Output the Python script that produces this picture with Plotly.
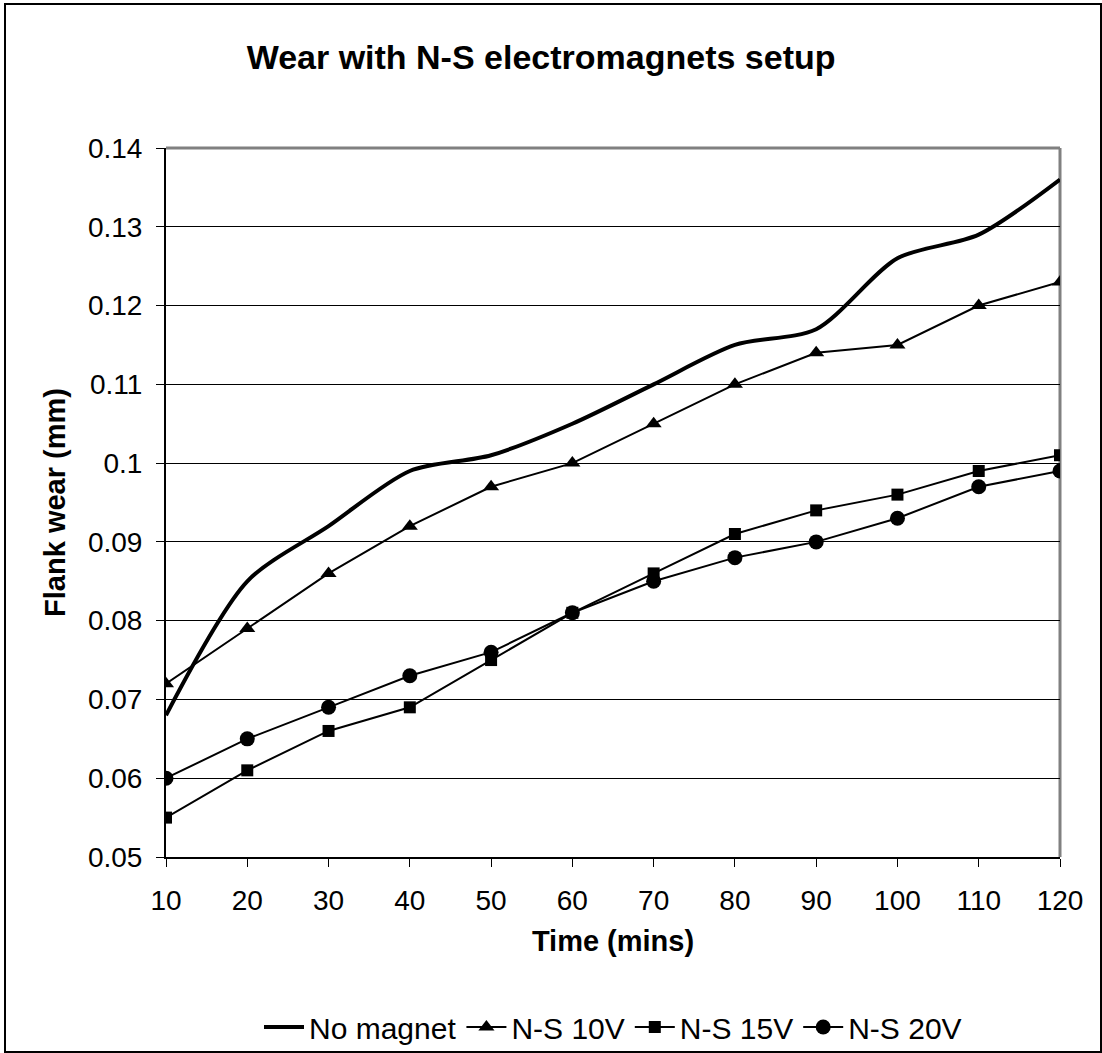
import plotly.graph_objects as go

time_mins = [10, 20, 30, 40, 50, 60, 70, 80, 90, 100, 110, 120]
no_magnet = [0.068, 0.085, 0.092, 0.099, 0.101, 0.105, 0.110, 0.115, 0.117, 0.126, 0.129, 0.136]
ns_10v = [0.072, 0.079, 0.086, 0.092, 0.097, 0.100, 0.105, 0.110, 0.114, 0.115, 0.120, 0.123]
ns_15v = [0.055, 0.061, 0.066, 0.069, 0.075, 0.081, 0.086, 0.091, 0.094, 0.096, 0.099, 0.101]
ns_20v = [0.060, 0.065, 0.069, 0.073, 0.076, 0.081, 0.085, 0.088, 0.090, 0.093, 0.097, 0.099]
y_ticks = [0.05, 0.06, 0.07, 0.08, 0.09, 0.10, 0.11, 0.12, 0.13, 0.14]
y_tick_labels = ["0.05", "0.06", "0.07", "0.08", "0.09", "0.1", "0.11", "0.12", "0.13", "0.14"]

FONT = "Liberation Sans, Arial, sans-serif"
TICK = 28
AXT = 29

fig = go.Figure()
fig.add_trace(go.Scatter(x=time_mins, y=no_magnet, name="No magnet", mode="lines",
                         line=dict(color="black", width=4, shape="spline", smoothing=0.8)))
fig.add_trace(go.Scatter(x=time_mins, y=ns_10v, name="N-S 10V", mode="lines+markers",
                         line=dict(color="black", width=2),
                         marker=dict(symbol="triangle-up", size=14, color="black")))
fig.add_trace(go.Scatter(x=time_mins, y=ns_15v, name="N-S 15V", mode="lines+markers",
                         line=dict(color="black", width=2),
                         marker=dict(symbol="square", size=12, color="black")))
fig.add_trace(go.Scatter(x=time_mins, y=ns_20v, name="N-S 20V", mode="lines+markers",
                         line=dict(color="black", width=2),
                         marker=dict(symbol="circle", size=15, color="black")))

fig.update_layout(
    width=1102, height=1053,
    margin=dict(l=166, r=42, t=148, b=196, autoexpand=False),
    paper_bgcolor="white", plot_bgcolor="white",
    font=dict(family=FONT, size=TICK, color="black"),
    title=dict(text="<b>Wear with N-S electromagnets setup</b>", x=0.491, xanchor="center",
               y=1 - 57 / 1053, yanchor="middle", font=dict(size=34, family=FONT)),
    showlegend=True,
    legend=dict(orientation="h", x=0.5, xanchor="center", yref="container",
                y=1 - 1027 / 1053, yanchor="middle", bgcolor="rgba(0,0,0,0)",
                font=dict(size=30, family=FONT), itemwidth=40, tracegroupgap=0),
    xaxis=dict(range=[10, 120], tickvals=time_mins, ticktext=[str(t) for t in time_mins],
               showgrid=False, zeroline=False, showline=True, linecolor="black", linewidth=2,
               ticks="outside", ticklen=8, tickcolor="black", tickwidth=1,
               ticklabelstandoff=9, automargin=False,
               title=dict(text="<b>Time (mins)</b>", font=dict(size=AXT, family=FONT), standoff=16)),
    yaxis=dict(range=[0.05, 0.14], tickvals=y_ticks, ticktext=y_tick_labels,
               showgrid=True, gridcolor="black", gridwidth=1, zeroline=False,
               showline=True, linecolor="black", linewidth=2,
               ticks="outside", ticklen=8, tickcolor="black", tickwidth=1,
               ticklabelstandoff=8, automargin=False,
               title=dict(text="<b>Flank wear (mm)</b>", font=dict(size=AXT, family=FONT), standoff=14)),
    shapes=[
        dict(type="line", xref="paper", yref="paper", x0=0, x1=1, y0=1, y1=1,
             line=dict(color="#808080", width=3), layer="between"),
        dict(type="line", xref="paper", yref="paper", x0=1, x1=1, y0=0, y1=1,
             line=dict(color="#808080", width=3), layer="between"),
        dict(type="rect", xref="paper", yref="paper",
             x0=-161 / 894, x1=1 + 41 / 894, y0=-195 / 709, y1=1 + 144 / 709,
             line=dict(color="black", width=2), fillcolor="rgba(0,0,0,0)", layer="below"),
    ],
)

fig.write_html("out.html")
